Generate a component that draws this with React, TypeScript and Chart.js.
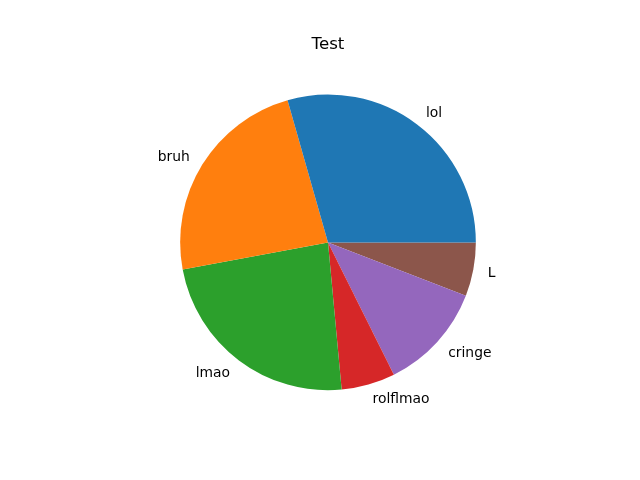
import React, { useEffect, useRef } from "react";
import { Chart, registerables } from "chart.js";

Chart.register(...registerables);

const categories = ["lol", "bruh", "lmao", "rolflmao", "cringe", "L"];
const values = [25, 20, 20, 5, 10, 5];
const colors = ["#1f77b4", "#ff7f0e", "#2ca02c", "#d62728", "#9467bd", "#8c564b"];
const titleText = "Test";

const W = 640;
const H = 480;
const CX = 328;
const CY = 242.4;
const R = 147.84;

export default function App() {
  const ref = useRef<HTMLCanvasElement | null>(null);

  useEffect(() => {
    document.body.style.margin = "0";
    const canvas = ref.current;
    if (!canvas) return;
    // Chart.js draws clockwise from top; matplotlib draws counter-clockwise from 3 o'clock.
    const labs = [...categories].reverse();
    const vals = [...values].reverse();
    const cols = [...colors].reverse();

    const labelPlugin = {
      id: "mplLabels",
      afterDraw(chart: any) {
        const ctx = chart.ctx as CanvasRenderingContext2D;
        const meta = chart.getDatasetMeta(0);
        ctx.save();
        ctx.fillStyle = "#000";
        ctx.font = '13.89px "DejaVu Sans"';
        ctx.textBaseline = "middle";
        meta.data.forEach((arc: any, i: number) => {
          const mid = (arc.startAngle + arc.endAngle) / 2;
          const r = arc.outerRadius * 1.1;
          const x = arc.x + r * Math.cos(mid);
          const y = arc.y + r * Math.sin(mid) + 1;
          ctx.textAlign = x > arc.x ? "left" : "right";
          ctx.fillText(labs[i], x, y);
        });
        ctx.font = '16.67px "DejaVu Sans"';
        ctx.textAlign = "center";
        ctx.textBaseline = "alphabetic";
        ctx.fillText(titleText, CX, 49);
        ctx.restore();
      },
    };

    const chart = new Chart(canvas, {
      type: "pie",
      data: {
        labels: labs,
        datasets: [
          {
            data: vals,
            backgroundColor: cols,
            borderWidth: 0,
            hoverOffset: 0,
          },
        ],
      },
      options: {
        responsive: false,
        animation: false,
        rotation: 90,
        radius: R,
        layout: {
          padding: {
            left: CX - R,
            right: W - (CX + R),
            top: CY - R,
            bottom: H - (CY + R),
          },
        },
        plugins: {
          legend: { display: false },
          title: { display: false },
          tooltip: { enabled: false },
        },
      },
      plugins: [labelPlugin],
    });
    return () => chart.destroy();
  }, []);

  return (
    <div style={{ position: "absolute", left: 0, top: 0, width: W, height: H, background: "#fff" }}>
      <canvas ref={ref} width={W} height={H} style={{ width: W, height: H, display: "block" }} />
    </div>
  );
}
